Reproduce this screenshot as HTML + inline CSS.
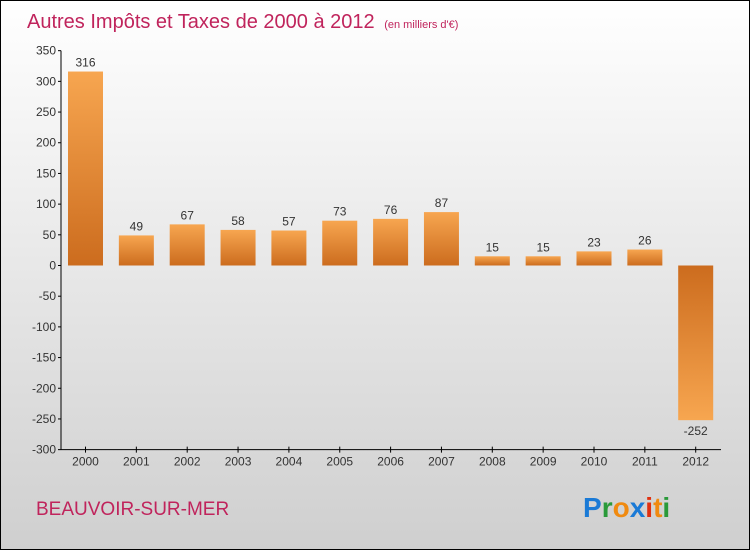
<!DOCTYPE html>
<html><head><meta charset="utf-8"><style>
body{margin:0}
#c{width:750px;height:550px;position:relative;font-family:"Liberation Sans",sans-serif}
</style></head><body>
<div id="c">
<svg width="750" height="550" xmlns="http://www.w3.org/2000/svg" id="s">
<defs>
<linearGradient id="bg" x1="0" y1="0" x2="0" y2="1"><stop offset="0" stop-color="#ffffff"/><stop offset="1" stop-color="#cfcfcf"/></linearGradient>
<linearGradient id="gp" x1="0" y1="0" x2="0" y2="1"><stop offset="0" stop-color="#f7a650"/><stop offset="1" stop-color="#cc6c1e"/></linearGradient>
<linearGradient id="gn" x1="0" y1="0" x2="0" y2="1"><stop offset="0" stop-color="#cc6c1e"/><stop offset="1" stop-color="#f7a650"/></linearGradient>
</defs>
<rect x="0.5" y="0.5" width="749" height="549" fill="url(#bg)" stroke="#000"/>
<text x="27" y="28" font-size="20" fill="#c0245c">Autres Impôts et Taxes de 2000 à 2012 <tspan font-size="11" dx="4">(en milliers d'€)</tspan></text>
<text x="36" y="515" font-size="19" fill="#c0245c">BEAUVOIR-SUR-MER</text>
<g font-size="28" font-weight="bold" font-family="'Liberation Sans',sans-serif">
<text x="583" y="517"><tspan fill="#1a7ad6">P</tspan><tspan fill="#2a9a3a">r</tspan><tspan fill="#f08a10">o</tspan><tspan fill="#1a7ad6">x</tspan><tspan fill="#e03010">i</tspan><tspan fill="#f08a10">t</tspan><tspan fill="#2a9a3a">i</tspan></text>
</g>
<g id="axes"></g>
<g id="bars"></g>
</svg>
</div>
<script>
const categories=["2000","2001","2002","2003","2004","2005","2006","2007","2008","2009","2010","2011","2012"];
const values=[316,49,67,58,57,73,76,87,15,15,23,26,-252];
const yTicks=[350,300,250,200,150,100,50,0,-50,-100,-150,-200,-250,-300];
const NS="http://www.w3.org/2000/svg";
function y(v){return 265.5-v*0.6138;}
function x(i){return 85.5+i*50.85;}
function mk(t,a,p){const e=document.createElementNS(NS,t);for(const k in a)e.setAttribute(k,a[k]);p.appendChild(e);return e;}
const ax=document.getElementById('axes'),bs=document.getElementById('bars');
const yl=mk('line',{x1:61,y1:y(350),x2:61,y2:y(-300),stroke:'#000'},ax);


yTicks.forEach(v=>{
  const t=mk('line',{x1:58,x2:61,y1:y(v),y2:y(v),stroke:'#000'},ax);
  
  
  const l=mk('text',{x:56,y:y(v)+4,'font-size':12,'text-anchor':'end',fill:'#333'},ax);
  l.textContent=v;
  
  
});
const xl=mk('line',{x1:61,y1:y(-300),x2:721,y2:y(-300),stroke:'#000'},ax);


categories.forEach((c,i)=>{
  const t=mk('line',{x1:x(i),x2:x(i),y1:y(-300)-3,y2:y(-300)+3,stroke:'#000'},ax);
  
  
  const l=mk('text',{x:x(i),y:y(-300)+16,'font-size':12,'text-anchor':'middle',fill:'#333'},ax);
  l.textContent=c;
  
  
  const v=values[i],top=Math.min(y(v),y(0)),h=Math.abs(y(v)-y(0));
  const r=mk('rect',{x:x(i)-17.5,y:top,width:35,height:h,fill:v>=0?'url(#gp)':'url(#gn)'},bs);
  
  
  const vl=mk('text',{x:x(i),y:v>=0?y(v)-5:y(v)+15,'font-size':12,'text-anchor':'middle',fill:'#333'},bs);
  vl.textContent=v;
  
  
});
</script>
</body></html>
